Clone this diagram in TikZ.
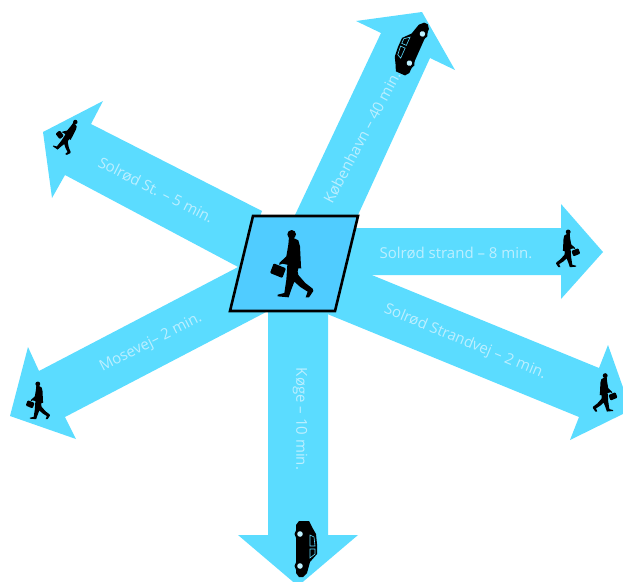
\documentclass[tikz,border=0pt]{standalone}
\usepackage{fontspec}
\setmainfont{Open Sans}
\definecolor{arrowblue}{HTML}{5BDCFF}
\definecolor{boxblue}{HTML}{50CCFF}
\definecolor{labelblue}{HTML}{BCEFFF}
\tikzset{
  arrowshape/.style={fill=arrowblue,draw=none},
  routelabel/.style={text=labelblue,font=\fontsize{15}{18}\selectfont,inner sep=0pt},
  walker/.pic={
    \begin{scope}[scale=.3333,shift={(-215,-190)}]
      \fill[black] (214,104) circle (13);
      \fill[black] (206,112) -- (222,116) -- (234,122) -- (239,140) -- (242,200) -- (243,206) -- (234,206)
        -- (232,215) -- (234,226) -- (255,250) -- (277,267) -- (279,274) -- (266,293) -- (256,293) -- (262,276)
        -- (240,262) -- (222,246) -- (212,272) -- (205,293) -- (172,290) -- (172,285) -- (192,280)
        -- (198,240) -- (201,195) -- (186,192) -- (177,196) -- (177,190) -- (198,170) -- (204,135) -- cycle;
      \fill[black,rounded corners=1] (160,191) -- (197,206) -- (186,235) -- (149,220) -- cycle;
    \end{scope}
  },
  automobile/.pic={
    \fill[black] (-28,7) -- (-28,-3) -- (-22,-6) -- (-15,-10) -- (-5,-11) -- (5,-11) -- (13,-4) -- (24,-1)
      -- (28,3) -- (28,7) -- (24,10) -- (-24,10) -- cycle;
    \draw[arrowblue,line width=.6pt] (-12,-8) -- (-3,-9) -- (-3,-4) -- (-14,-4) -- cycle
      (0,-9) -- (5,-9) -- (9,-4) -- (0,-4) -- cycle;
    \fill[black] (-15,6) circle (5.5) (17,6) circle (5.5);
    \fill[arrowblue!40!white] (-15,6) circle (2.8) (17,6) circle (2.8);
  }
}
\begin{document}
\begin{tikzpicture}[x=1pt,y=-1pt]
  \useasboundingbox (0,0) rectangle (623,581);
  \clip (0,0) rectangle (623,581);
  % north-west arrow
  \fill[arrowshape] (262,211) -- (91,124) -- (103,101) -- (43,132) -- (52,198) -- (65,175) -- (240,268) -- cycle;
  % north arrow
  \fill[arrowshape] (295,215) -- (381,33) -- (356,21) -- (422,12) -- (455,70) -- (430,58) -- (358,215) -- cycle;
  % east arrow
  \fill[arrowshape] (350,228) -- (561,228) -- (561,204) -- (603,252) -- (561,299) -- (561,275) -- (340,275) -- cycle;
  % south-east arrow
  \fill[arrowshape] (340,262) -- (599,368) -- (608,345) -- (631,410) -- (570,440) -- (579,417) -- (320,311) -- cycle;
  % south arrow
  \fill[arrowshape] (268,305) -- (328,305) -- (328,535) -- (358,535) -- (298,586) -- (238,535) -- (268,535) -- cycle;
  % south-west arrow
  \fill[arrowshape] (240,266) -- (39,371) -- (28,347) -- (10,416) -- (76,439) -- (65,417) -- (270,310) -- cycle;
  % centre box
  \filldraw[fill=boxblue,draw=black,line width=2.6pt,miter limit=10] (253,216) -- (358,216) -- (335,311) -- (230,311) -- cycle;
  \pic (mainman) at (292,263) {walker};
  % travellers
  \pic[scale=.56,xscale=-1] (eastman) at (568,248) {walker};
  \pic[scale=.57,xscale=-1] (seman) at (605,392) {walker};
  \pic[scale=.56] (swman) at (38,400) {walker};
  \pic[scale=.52,rotate=-30] (nwman) at (68,135) {walker};
  \pic[rotate=66] (northcar) at (410,47) {automobile};
  \pic[rotate=-90] (southcar) at (306,549) {automobile};
  % labels
  \node[routelabel,rotate=-27] (nwlabel) at (156,190) {Solrød St. – 5 min.};
  \node[routelabel,rotate=62] (nlabel) at (362,137) {København – 40 min.};
  \node[routelabel] (elabel) at (456,253) {Solrød strand – 8 min.};
  \node[routelabel,rotate=-22.5] (selabel) at (465,342) {Solrød Strandvej – 2 min.};
  \node[routelabel,rotate=-90] (slabel) at (300,419) {Køge – 10 min.};
  \node[routelabel,rotate=27] (swlabel) at (151,343) {Mosevej– 2 min.};
\end{tikzpicture}
\end{document}
